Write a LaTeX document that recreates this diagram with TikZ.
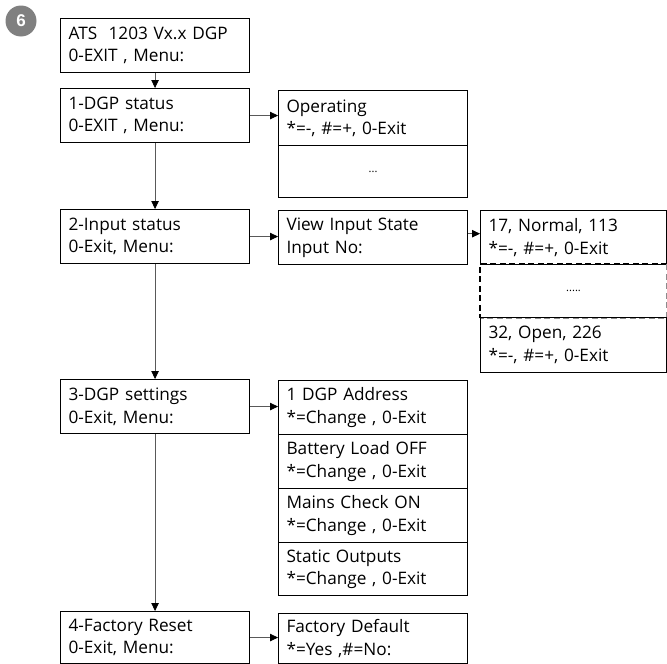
\documentclass[tikz,border=0pt]{standalone}
\usepackage{fontspec}
\setmainfont{Open Sans}
\newfontfamily\numfont{Liberation Sans}
\usetikzlibrary{arrows.meta,calc}
\begin{document}
\begin{tikzpicture}[x=1pt,y=-1pt,
  box/.style={draw=black, line width=1.1pt, rectangle, anchor=north west,
    minimum width=189pt, minimum height=54pt, text width=173pt,
    inner xsep=8pt, inner ysep=0pt, align=left,
    font=\fontsize{17.2}{22.5}\selectfont},
  rbox/.style={box, minimum width=186pt, text width=170pt},
  dotbox/.style={box, align=center, font=\fontsize{11}{12}\selectfont},
  conn/.style={draw=black!65, line width=0.8pt,
    -{Triangle[length=8pt,width=7.5pt,color=black]}},
  dashline/.style={line width=1.6pt, dash pattern=on 6pt off 3.5pt}
]
\useasboundingbox (0,0) rectangle (667,664);

\node[circle, fill=black!50, minimum size=31pt, inner sep=0pt, text=white,
  font=\numfont\fontsize{17}{17}\selectfont\bfseries] (num) at (21,21) {6};

% left column
\node[box] (ats) at (60,18) {ATS\ \ 1203 Vx.x DGP\\0-EXIT , Menu:};
\node[box] (dgp) at (60,88) {1-DGP status\\0-EXIT , Menu:};
\node[box] (inp) at (60,209) {2-Input status\\0-Exit, Menu:};
\node[box] (set) at (60,379) {3-DGP settings\\0-Exit, Menu:};
\node[box, minimum height=52pt] (fr) at (60,611) {4-Factory Reset\\0-Exit, Menu:};

% middle column
\node[box, minimum height=55pt] (op) at (278,90) {Operating\\{*}=-, \#=+, 0-Exit};
\node[dotbox, minimum height=52pt] (opdots) at (278,145) {...};
\node[box] (view) at (278,210) {View Input State\\Input No:};
\node[box] (s1) at (278,380) {1 DGP Address\\{*}=Change , 0-Exit};
\node[box] (s2) at (278,434) {Battery Load OFF\\{*}=Change , 0-Exit};
\node[box] (s3) at (278,488) {Mains Check ON\\{*}=Change , 0-Exit};
\node[box, minimum height=53pt] (s4) at (278,542) {Static Outputs\\{*}=Change , 0-Exit};
\node[box, minimum height=50pt] (fd) at (278,613) {Factory Default\\{*}=Yes ,\#=No:};

% right column
\node[rbox] (n17) at (480,210) {17, Normal, 113\\{*}=-, \#=+, 0-Exit};
\node[rbox, draw=none, minimum height=53pt, align=center,
  font=\fontsize{11}{12}\selectfont] (mid) at (480,264) {.....};
\draw[dashline, black] (mid.north east) -- (mid.north west) -- (mid.south west);
\draw[dashline, black!45] (mid.north east) -- (mid.south east) -- (mid.south west);
\node[rbox, minimum height=55pt] (n32) at (480,317) {32, Open, 226\\{*}=-, \#=+, 0-Exit};

% connectors
\coordinate (vo) at ($(view.north east)!0.43!(view.south east)$);
\draw[conn] (ats.south) -- (dgp.north);
\draw[conn] (dgp.south) -- (inp.north);
\draw[conn] (inp.south) -- (set.north);
\draw[conn] (set.south) -- (fr.north);
\draw[conn] (dgp.east) -- (dgp.east -| op.west);
\draw[conn] (inp.east) -- (inp.east -| view.west);
\draw[conn] (vo) -- (vo -| n17.west);
\draw[conn] (set.east) -- (set.east -| s1.west);
\draw[conn] (fr.east) -- (fr.east -| fd.west);
\end{tikzpicture}
\end{document}
